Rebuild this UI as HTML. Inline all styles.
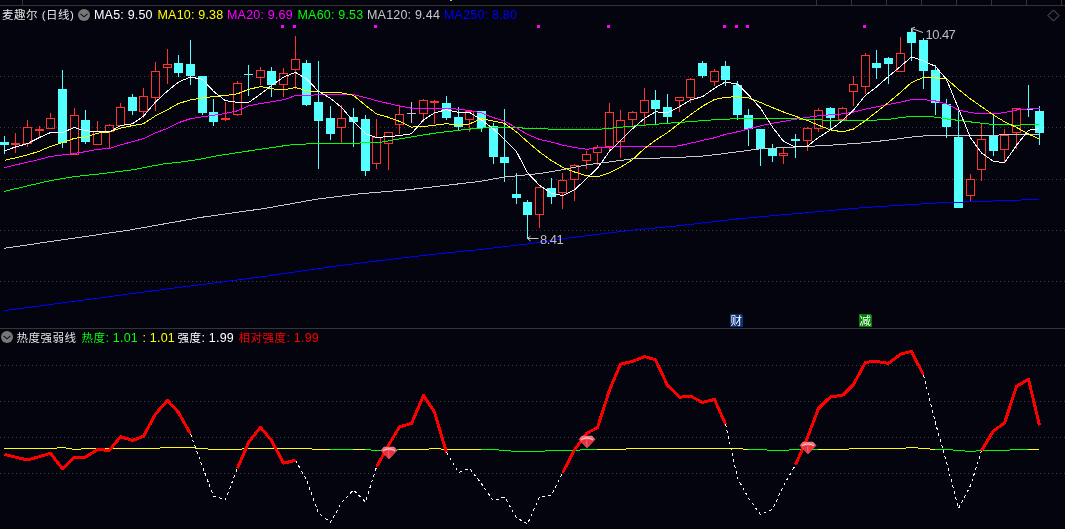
<!DOCTYPE html>
<html><head><meta charset="utf-8"><title>麦趣尔(日线)</title>
<style>
html,body{margin:0;padding:0;background:#04040e;}
body{width:1065px;height:529px;overflow:hidden;position:relative;font-family:"Liberation Sans","Noto Sans CJK SC",sans-serif;font-size:12px;}
svg{position:absolute;left:0;top:0;display:block}
.t{position:absolute;white-space:nowrap;line-height:14px;height:14px;font-size:12.5px;letter-spacing:0.2px}
.h1{top:8px}
.h2{top:330.5px}
.cj{font-size:11.5px;letter-spacing:0.5px}
</style></head><body>
<svg width="1065" height="529" viewBox="0 0 1065 529" shape-rendering="crispEdges">
<rect width="1065" height="529" fill="#04040e"/>

<g fill="#353535">
<rect x="0" y="5" width="1065" height="1"/>
<rect x="22" y="0" width="1" height="5"/>
<rect x="816" y="0" width="1" height="5"/>
<rect x="851" y="0" width="1" height="5"/>
<rect x="886" y="0" width="1" height="5"/>
<rect x="921" y="0" width="1" height="5"/>
<rect x="956" y="0" width="1" height="5"/>
<rect x="991" y="0" width="1" height="5"/>
<rect x="1026" y="0" width="1" height="5"/>
<rect x="1061" y="0" width="1" height="5"/>
<rect x="0" y="328" width="1065" height="1"/>
</g>
<rect x="450" y="0" width="2" height="1" fill="#bbb"/>
<g fill="#4a4a4a">
<line x1="0" y1="76.5" x2="1065" y2="76.5" stroke="#404040" stroke-width="1" stroke-dasharray="1 3"/>
<line x1="0" y1="127.5" x2="1065" y2="127.5" stroke="#404040" stroke-width="1" stroke-dasharray="1 3"/>
<line x1="0" y1="179.5" x2="1065" y2="179.5" stroke="#404040" stroke-width="1" stroke-dasharray="1 3"/>
<line x1="0" y1="230.5" x2="1065" y2="230.5" stroke="#404040" stroke-width="1" stroke-dasharray="1 3"/>
<line x1="0" y1="281.5" x2="1065" y2="281.5" stroke="#404040" stroke-width="1" stroke-dasharray="1 3"/>
<line x1="0" y1="365.5" x2="1065" y2="365.5" stroke="#404040" stroke-width="1" stroke-dasharray="1 3"/>
<line x1="0" y1="401.5" x2="1065" y2="401.5" stroke="#404040" stroke-width="1" stroke-dasharray="1 3"/>
<line x1="0" y1="437.5" x2="1065" y2="437.5" stroke="#404040" stroke-width="1" stroke-dasharray="1 3"/>
<line x1="0" y1="473.5" x2="1065" y2="473.5" stroke="#404040" stroke-width="1" stroke-dasharray="1 3"/>
</g>
<rect x="4" y="136" width="1" height="18" fill="#54ffff"/>
<rect x="0" y="142" width="9" height="3" fill="#54ffff"/>
<rect x="15" y="133" width="1" height="10" fill="#ff3232"/>
<rect x="15" y="145" width="1" height="8" fill="#ff3232"/>
<rect x="11" y="143" width="9" height="2" fill="#ff3232"/>
<rect x="27" y="120" width="1" height="7" fill="#ff3232"/>
<rect x="27" y="144" width="1" height="3" fill="#ff3232"/>
<rect x="23.5" y="127.5" width="8" height="16" fill="none" stroke="#ff3232" stroke-width="1"/>
<rect x="39" y="126" width="1" height="3" fill="#ff3232"/>
<rect x="39" y="131" width="1" height="6" fill="#ff3232"/>
<rect x="35" y="129" width="9" height="2" fill="#ff3232"/>
<rect x="50" y="113" width="1" height="5" fill="#ff3232"/>
<rect x="46.5" y="118.5" width="8" height="10" fill="none" stroke="#ff3232" stroke-width="1"/>
<rect x="62" y="70" width="1" height="78" fill="#54ffff"/>
<rect x="58" y="89" width="9" height="54" fill="#54ffff"/>
<rect x="74" y="108" width="1" height="7" fill="#ff3232"/>
<rect x="70.5" y="115.5" width="8" height="39" fill="none" stroke="#ff3232" stroke-width="1"/>
<rect x="85" y="110" width="1" height="34" fill="#54ffff"/>
<rect x="81" y="120" width="9" height="22" fill="#54ffff"/>
<rect x="97" y="121" width="1" height="10" fill="#ff3232"/>
<rect x="93.5" y="131.5" width="8" height="13" fill="none" stroke="#ff3232" stroke-width="1"/>
<rect x="109" y="124" width="1" height="1" fill="#ff3232"/>
<rect x="109" y="132" width="1" height="16" fill="#ff3232"/>
<rect x="105.5" y="125.5" width="8" height="6" fill="none" stroke="#ff3232" stroke-width="1"/>
<rect x="120" y="103" width="1" height="4" fill="#ff3232"/>
<rect x="116.5" y="107.5" width="8" height="18" fill="none" stroke="#ff3232" stroke-width="1"/>
<rect x="132" y="94" width="1" height="21" fill="#54ffff"/>
<rect x="128" y="97" width="9" height="14" fill="#54ffff"/>
<rect x="143" y="88" width="1" height="8" fill="#ff3232"/>
<rect x="143" y="112" width="1" height="6" fill="#ff3232"/>
<rect x="139.5" y="96.5" width="8" height="15" fill="none" stroke="#ff3232" stroke-width="1"/>
<rect x="155" y="62" width="1" height="9" fill="#ff3232"/>
<rect x="155" y="98" width="1" height="13" fill="#ff3232"/>
<rect x="151.5" y="71.5" width="8" height="26" fill="none" stroke="#ff3232" stroke-width="1"/>
<rect x="167" y="49" width="1" height="15" fill="#ff3232"/>
<rect x="167" y="68" width="1" height="16" fill="#ff3232"/>
<rect x="163.5" y="64.5" width="8" height="3" fill="none" stroke="#ff3232" stroke-width="1"/>
<rect x="178" y="55" width="1" height="22" fill="#54ffff"/>
<rect x="174" y="63" width="9" height="10" fill="#54ffff"/>
<rect x="190" y="40" width="1" height="45" fill="#54ffff"/>
<rect x="186" y="64" width="9" height="12" fill="#54ffff"/>
<rect x="202" y="76" width="1" height="39" fill="#54ffff"/>
<rect x="198" y="76" width="9" height="37" fill="#54ffff"/>
<rect x="213" y="99" width="1" height="27" fill="#54ffff"/>
<rect x="209" y="112" width="9" height="10" fill="#54ffff"/>
<rect x="225" y="102" width="1" height="16" fill="#ff3232"/>
<rect x="225" y="120" width="1" height="1" fill="#ff3232"/>
<rect x="221" y="118" width="9" height="2" fill="#ff3232"/>
<rect x="237" y="81" width="1" height="2" fill="#ff3232"/>
<rect x="237" y="115" width="1" height="1" fill="#ff3232"/>
<rect x="233.5" y="83.5" width="8" height="31" fill="none" stroke="#ff3232" stroke-width="1"/>
<rect x="248" y="65" width="1" height="31" fill="#54ffff"/>
<rect x="244" y="74" width="9" height="1" fill="#54ffff"/>
<rect x="260" y="67" width="1" height="3" fill="#ff3232"/>
<rect x="260" y="78" width="1" height="7" fill="#ff3232"/>
<rect x="256.5" y="70.5" width="8" height="7" fill="none" stroke="#ff3232" stroke-width="1"/>
<rect x="271" y="67" width="1" height="30" fill="#54ffff"/>
<rect x="267" y="71" width="9" height="14" fill="#54ffff"/>
<rect x="283" y="68" width="1" height="5" fill="#ff3232"/>
<rect x="283" y="85" width="1" height="12" fill="#ff3232"/>
<rect x="279.5" y="73.5" width="8" height="11" fill="none" stroke="#ff3232" stroke-width="1"/>
<rect x="295" y="36" width="1" height="23" fill="#ff3232"/>
<rect x="295" y="70" width="1" height="19" fill="#ff3232"/>
<rect x="291.5" y="59.5" width="8" height="10" fill="none" stroke="#ff3232" stroke-width="1"/>
<rect x="306" y="60" width="1" height="46" fill="#54ffff"/>
<rect x="302" y="63" width="9" height="42" fill="#54ffff"/>
<rect x="318" y="61" width="1" height="108" fill="#54ffff"/>
<rect x="314" y="102" width="9" height="19" fill="#54ffff"/>
<rect x="330" y="106" width="1" height="34" fill="#54ffff"/>
<rect x="326" y="118" width="9" height="16" fill="#54ffff"/>
<rect x="341" y="105" width="1" height="13" fill="#ff3232"/>
<rect x="341" y="128" width="1" height="15" fill="#ff3232"/>
<rect x="337.5" y="118.5" width="8" height="9" fill="none" stroke="#ff3232" stroke-width="1"/>
<rect x="353" y="108" width="1" height="39" fill="#54ffff"/>
<rect x="349" y="117" width="9" height="5" fill="#54ffff"/>
<rect x="365" y="115" width="1" height="61" fill="#54ffff"/>
<rect x="361" y="119" width="9" height="52" fill="#54ffff"/>
<rect x="376" y="119" width="1" height="18" fill="#ff3232"/>
<rect x="376" y="164" width="1" height="5" fill="#ff3232"/>
<rect x="372.5" y="137.5" width="8" height="26" fill="none" stroke="#ff3232" stroke-width="1"/>
<rect x="388" y="144" width="1" height="26" fill="#ff3232"/>
<rect x="384.5" y="132.5" width="8" height="11" fill="none" stroke="#ff3232" stroke-width="1"/>
<rect x="399" y="106" width="1" height="8" fill="#ff3232"/>
<rect x="399" y="125" width="1" height="9" fill="#ff3232"/>
<rect x="395.5" y="114.5" width="8" height="10" fill="none" stroke="#ff3232" stroke-width="1"/>
<rect x="411" y="102" width="1" height="21" fill="#c8c8c8"/>
<rect x="407" y="113" width="9" height="1" fill="#c8c8c8"/>
<rect x="423" y="99" width="1" height="1" fill="#ff3232"/>
<rect x="423" y="114" width="1" height="8" fill="#ff3232"/>
<rect x="419.5" y="100.5" width="8" height="13" fill="none" stroke="#ff3232" stroke-width="1"/>
<rect x="434" y="100" width="1" height="1" fill="#ff3232"/>
<rect x="434" y="103" width="1" height="21" fill="#ff3232"/>
<rect x="430" y="101" width="9" height="2" fill="#ff3232"/>
<rect x="446" y="96" width="1" height="24" fill="#54ffff"/>
<rect x="442" y="103" width="9" height="15" fill="#54ffff"/>
<rect x="458" y="107" width="1" height="23" fill="#54ffff"/>
<rect x="454" y="117" width="9" height="10" fill="#54ffff"/>
<rect x="469" y="120" width="1" height="12" fill="#ff3232"/>
<rect x="465.5" y="111.5" width="8" height="8" fill="none" stroke="#ff3232" stroke-width="1"/>
<rect x="481" y="111" width="1" height="21" fill="#54ffff"/>
<rect x="477" y="111" width="9" height="17" fill="#54ffff"/>
<rect x="493" y="123" width="1" height="41" fill="#54ffff"/>
<rect x="489" y="126" width="9" height="31" fill="#54ffff"/>
<rect x="504" y="109" width="1" height="73" fill="#54ffff"/>
<rect x="500" y="157" width="9" height="6" fill="#54ffff"/>
<rect x="516" y="173" width="1" height="31" fill="#54ffff"/>
<rect x="512" y="194" width="9" height="4" fill="#54ffff"/>
<rect x="527" y="200" width="1" height="39" fill="#54ffff"/>
<rect x="523" y="202" width="9" height="13" fill="#54ffff"/>
<rect x="539" y="215" width="1" height="13" fill="#ff3232"/>
<rect x="535.5" y="187.5" width="8" height="27" fill="none" stroke="#ff3232" stroke-width="1"/>
<rect x="551" y="178" width="1" height="26" fill="#54ffff"/>
<rect x="547" y="188" width="9" height="9" fill="#54ffff"/>
<rect x="562" y="173" width="1" height="7" fill="#ff3232"/>
<rect x="562" y="193" width="1" height="16" fill="#ff3232"/>
<rect x="558.5" y="180.5" width="8" height="12" fill="none" stroke="#ff3232" stroke-width="1"/>
<rect x="574" y="164" width="1" height="1" fill="#ff3232"/>
<rect x="574" y="180" width="1" height="21" fill="#ff3232"/>
<rect x="570.5" y="165.5" width="8" height="14" fill="none" stroke="#ff3232" stroke-width="1"/>
<rect x="586" y="151" width="1" height="3" fill="#ff3232"/>
<rect x="586" y="161" width="1" height="8" fill="#ff3232"/>
<rect x="582.5" y="154.5" width="8" height="6" fill="none" stroke="#ff3232" stroke-width="1"/>
<rect x="597" y="145" width="1" height="2" fill="#ff3232"/>
<rect x="597" y="153" width="1" height="12" fill="#ff3232"/>
<rect x="593.5" y="147.5" width="8" height="5" fill="none" stroke="#ff3232" stroke-width="1"/>
<rect x="609" y="103" width="1" height="9" fill="#ff3232"/>
<rect x="609" y="148" width="1" height="3" fill="#ff3232"/>
<rect x="605.5" y="112.5" width="8" height="35" fill="none" stroke="#ff3232" stroke-width="1"/>
<rect x="620" y="110" width="1" height="10" fill="#ff3232"/>
<rect x="620" y="142" width="1" height="16" fill="#ff3232"/>
<rect x="616.5" y="120.5" width="8" height="21" fill="none" stroke="#ff3232" stroke-width="1"/>
<rect x="632" y="111" width="1" height="1" fill="#ff3232"/>
<rect x="632" y="120" width="1" height="7" fill="#ff3232"/>
<rect x="628.5" y="112.5" width="8" height="7" fill="none" stroke="#ff3232" stroke-width="1"/>
<rect x="644" y="88" width="1" height="12" fill="#ff3232"/>
<rect x="644" y="113" width="1" height="12" fill="#ff3232"/>
<rect x="640.5" y="100.5" width="8" height="12" fill="none" stroke="#ff3232" stroke-width="1"/>
<rect x="655" y="90" width="1" height="34" fill="#54ffff"/>
<rect x="651" y="100" width="9" height="9" fill="#54ffff"/>
<rect x="667" y="94" width="1" height="29" fill="#54ffff"/>
<rect x="663" y="107" width="9" height="10" fill="#54ffff"/>
<rect x="679" y="101" width="1" height="11" fill="#ff3232"/>
<rect x="675.5" y="97.5" width="8" height="3" fill="none" stroke="#ff3232" stroke-width="1"/>
<rect x="690" y="78" width="1" height="1" fill="#ff3232"/>
<rect x="690" y="98" width="1" height="5" fill="#ff3232"/>
<rect x="686.5" y="79.5" width="8" height="18" fill="none" stroke="#ff3232" stroke-width="1"/>
<rect x="702" y="61" width="1" height="17" fill="#54ffff"/>
<rect x="698" y="63" width="9" height="13" fill="#54ffff"/>
<rect x="714" y="69" width="1" height="2" fill="#ff3232"/>
<rect x="714" y="82" width="1" height="4" fill="#ff3232"/>
<rect x="710.5" y="71.5" width="8" height="10" fill="none" stroke="#ff3232" stroke-width="1"/>
<rect x="725" y="61" width="1" height="25" fill="#54ffff"/>
<rect x="721" y="66" width="9" height="14" fill="#54ffff"/>
<rect x="737" y="81" width="1" height="39" fill="#54ffff"/>
<rect x="733" y="85" width="9" height="30" fill="#54ffff"/>
<rect x="748" y="109" width="1" height="37" fill="#54ffff"/>
<rect x="744" y="115" width="9" height="14" fill="#54ffff"/>
<rect x="760" y="129" width="1" height="37" fill="#54ffff"/>
<rect x="756" y="129" width="9" height="20" fill="#54ffff"/>
<rect x="772" y="144" width="1" height="18" fill="#54ffff"/>
<rect x="768" y="148" width="9" height="8" fill="#54ffff"/>
<rect x="783" y="148" width="1" height="5" fill="#ff3232"/>
<rect x="783" y="156" width="1" height="8" fill="#ff3232"/>
<rect x="779.5" y="153.5" width="8" height="2" fill="none" stroke="#ff3232" stroke-width="1"/>
<rect x="795" y="134" width="1" height="24" fill="#54ffff"/>
<rect x="791" y="139" width="9" height="2" fill="#54ffff"/>
<rect x="807" y="127" width="1" height="1" fill="#ff3232"/>
<rect x="807" y="141" width="1" height="10" fill="#ff3232"/>
<rect x="803.5" y="128.5" width="8" height="12" fill="none" stroke="#ff3232" stroke-width="1"/>
<rect x="818" y="108" width="1" height="2" fill="#ff3232"/>
<rect x="818" y="129" width="1" height="3" fill="#ff3232"/>
<rect x="814.5" y="110.5" width="8" height="18" fill="none" stroke="#ff3232" stroke-width="1"/>
<rect x="830" y="107" width="1" height="23" fill="#54ffff"/>
<rect x="826" y="108" width="9" height="10" fill="#54ffff"/>
<rect x="842" y="107" width="1" height="1" fill="#ff3232"/>
<rect x="838.5" y="108.5" width="8" height="11" fill="none" stroke="#ff3232" stroke-width="1"/>
<rect x="853" y="76" width="1" height="8" fill="#ff3232"/>
<rect x="853" y="92" width="1" height="14" fill="#ff3232"/>
<rect x="849.5" y="84.5" width="8" height="7" fill="none" stroke="#ff3232" stroke-width="1"/>
<rect x="865" y="53" width="1" height="2" fill="#ff3232"/>
<rect x="865" y="87" width="1" height="7" fill="#ff3232"/>
<rect x="861.5" y="55.5" width="8" height="31" fill="none" stroke="#ff3232" stroke-width="1"/>
<rect x="876" y="50" width="1" height="29" fill="#54ffff"/>
<rect x="872" y="63" width="9" height="5" fill="#54ffff"/>
<rect x="888" y="57" width="1" height="27" fill="#54ffff"/>
<rect x="884" y="58" width="9" height="6" fill="#54ffff"/>
<rect x="900" y="37" width="1" height="16" fill="#ff3232"/>
<rect x="896.5" y="53.5" width="8" height="18" fill="none" stroke="#ff3232" stroke-width="1"/>
<rect x="911" y="28" width="1" height="33" fill="#54ffff"/>
<rect x="907" y="32" width="9" height="11" fill="#54ffff"/>
<rect x="923" y="38" width="1" height="51" fill="#54ffff"/>
<rect x="919" y="40" width="9" height="31" fill="#54ffff"/>
<rect x="935" y="65" width="1" height="50" fill="#54ffff"/>
<rect x="931" y="70" width="9" height="33" fill="#54ffff"/>
<rect x="946" y="99" width="1" height="39" fill="#54ffff"/>
<rect x="942" y="104" width="9" height="23" fill="#54ffff"/>
<rect x="958" y="108" width="1" height="100" fill="#54ffff"/>
<rect x="954" y="137" width="9" height="71" fill="#54ffff"/>
<rect x="970" y="174" width="1" height="5" fill="#ff3232"/>
<rect x="970" y="196" width="1" height="5" fill="#ff3232"/>
<rect x="966.5" y="179.5" width="8" height="16" fill="none" stroke="#ff3232" stroke-width="1"/>
<rect x="981" y="123" width="1" height="16" fill="#ff3232"/>
<rect x="981" y="170" width="1" height="11" fill="#ff3232"/>
<rect x="977.5" y="139.5" width="8" height="30" fill="none" stroke="#ff3232" stroke-width="1"/>
<rect x="993" y="114" width="1" height="42" fill="#54ffff"/>
<rect x="989" y="135" width="9" height="16" fill="#54ffff"/>
<rect x="1004" y="129" width="1" height="6" fill="#ff3232"/>
<rect x="1004" y="150" width="1" height="12" fill="#ff3232"/>
<rect x="1000.5" y="135.5" width="8" height="14" fill="none" stroke="#ff3232" stroke-width="1"/>
<rect x="1016" y="133" width="1" height="16" fill="#ff3232"/>
<rect x="1012.5" y="108.5" width="8" height="24" fill="none" stroke="#ff3232" stroke-width="1"/>
<rect x="1028" y="85" width="1" height="32" fill="#54ffff"/>
<rect x="1024" y="109" width="9" height="1" fill="#54ffff"/>
<rect x="1039" y="106" width="1" height="39" fill="#54ffff"/>
<rect x="1035" y="111" width="9" height="22" fill="#54ffff"/>
<polyline points="4.0,310.7 180.0,287.2 200.0,284.8 265.0,276.4 333.0,266.5 406.8,257.4 450.0,252.5 480.0,249.6 527.5,243.9 574.5,237.3 629.0,230.5 680.0,225.6 740.0,218.6 865.0,207.5 940.6,202.8 1039.0,199.4" fill="none" stroke="#0000ff" stroke-width="1" />
<polyline points="4.0,248.3 128.0,230.3 180.0,221.1 200.0,217.5 265.0,208.4 316.0,199.3 361.5,193.6 406.8,189.9 480.0,181.4 504.6,177.0 540.0,173.5 560.0,170.2 586.0,165.0 632.0,158.9 679.0,157.4 702.0,156.1 720.0,154.1 760.6,148.8 795.0,147.0 830.6,145.2 865.0,142.7 888.0,140.2 912.0,137.0 929.0,135.5 960.0,135.5 1039.0,134.5" fill="none" stroke="#c8c8c8" stroke-width="1" />
<polyline points="4.0,191.4 50.0,180.7 75.0,176.5 100.0,173.9 133.0,169.7 163.0,164.0 180.0,162.2 200.0,159.2 218.9,155.5 237.8,152.6 256.7,149.8 275.6,147.0 288.8,145.1 302.0,144.1 321.0,143.7 336.0,143.2 351.0,143.2 370.0,142.8 380.0,142.4 398.9,139.0 417.8,135.8 436.7,132.9 455.6,130.7 468.8,129.1 478.0,128.6 487.0,127.6 522.0,127.6 523.0,128.5 545.0,128.6 551.0,129.5 600.0,129.2 608.0,128.5 620.5,127.2 632.0,126.2 644.0,125.2 655.0,124.3 667.0,123.3 680.0,122.4 690.5,121.6 714.0,119.8 722.0,119.3 730.0,119.0 795.0,118.8 837.0,120.7 870.0,120.4 888.0,119.4 912.0,116.2 929.0,116.2 946.7,118.9 970.5,121.9 993.5,124.5 1016.6,125.1 1039.0,124.5" fill="none" stroke="#00ff00" stroke-width="1" />
<polyline points="4.5,167.6 15.5,164.9 27.5,162.2 39.5,159.4 50.5,156.4 62.5,154.9 74.5,153.4 85.5,151.7 97.5,149.4 109.5,148.4 120.5,144.9 132.5,141.7 143.5,138.6 155.5,132.9 167.5,128.4 178.5,122.7 190.5,118.7 202.5,116.7 213.5,115.3 225.5,113.4 237.5,110.8 248.5,105.8 260.5,103.6 271.5,101.7 283.5,99.8 295.5,95.6 306.5,95.6 318.5,94.7 330.5,94.7 341.5,94.7 353.5,94.7 365.5,97.5 376.5,100.6 388.5,103.5 399.5,105.9 411.5,108.2 423.5,108.8 434.5,108.8 446.5,108.2 458.5,109.2 469.5,110.5 481.5,112.9 493.5,117.7 504.5,121.1 516.5,127.9 527.5,134.4 539.5,139.4 551.5,142.1 562.5,145.1 574.5,147.4 586.5,149.3 597.5,148.0 609.5,146.5 620.5,146.1 632.5,146.1 644.5,146.1 655.5,146.1 667.5,147.0 679.5,145.7 690.5,143.2 702.5,140.4 714.5,137.8 725.5,134.4 737.5,131.8 748.5,129.0 760.5,125.8 772.5,123.3 783.5,121.4 795.5,119.2 807.5,117.3 818.5,115.8 830.5,114.8 842.5,113.9 853.5,112.0 865.5,109.2 876.5,106.9 888.5,104.4 900.5,102.2 911.5,99.6 923.5,99.6 935.5,101.0 946.5,103.8 958.5,110.0 970.5,112.6 981.5,113.8 993.5,113.8 1004.5,112.6 1016.5,110.0 1028.5,108.9 1039.5,108.9" fill="none" stroke="#ff00ff" stroke-width="1" />
<polyline points="4.5,160.4 15.5,157.8 27.5,154.9 39.5,151.1 50.5,146.4 62.5,142.6 74.5,138.3 85.5,137.0 97.5,133.2 109.5,131.9 120.5,128.1 132.5,125.6 143.5,123.7 155.5,115.9 167.5,109.7 178.5,103.5 190.5,99.9 202.5,97.9 213.5,96.6 225.5,95.5 237.5,93.8 248.5,89.4 260.5,86.6 271.5,88.8 283.5,90.0 295.5,87.5 306.5,90.7 318.5,91.9 330.5,92.6 341.5,92.8 353.5,95.4 365.5,105.4 376.5,113.9 388.5,117.3 399.5,121.4 411.5,127.1 423.5,126.5 434.5,125.2 446.5,123.7 458.5,125.2 469.5,123.9 481.5,118.6 493.5,121.1 504.5,123.3 516.5,131.9 527.5,141.8 539.5,152.0 551.5,160.6 562.5,167.3 574.5,172.0 586.5,175.8 597.5,176.7 609.5,172.9 620.5,167.3 632.5,159.7 644.5,148.4 655.5,140.2 667.5,132.6 679.5,123.2 690.5,114.7 702.5,106.2 714.5,99.5 725.5,97.2 737.5,96.8 748.5,97.8 760.5,102.5 772.5,107.6 783.5,112.0 795.5,116.3 807.5,120.5 818.5,125.2 830.5,129.9 842.5,131.8 853.5,129.0 865.5,120.5 876.5,112.0 888.5,102.4 900.5,92.4 911.5,82.5 923.5,77.4 935.5,77.8 946.5,78.9 958.5,89.4 970.5,99.0 981.5,106.6 993.5,115.1 1004.5,121.7 1016.5,127.4 1028.5,134.0 1039.5,139.3" fill="none" stroke="#ffff00" stroke-width="1" />
<polyline points="4.5,150.8 15.5,147.0 27.5,143.6 39.5,137.5 50.5,132.6 62.5,132.6 74.5,127.5 85.5,130.9 97.5,131.3 109.5,131.9 120.5,125.6 132.5,123.7 143.5,116.2 155.5,102.0 167.5,91.0 178.5,82.1 190.5,77.0 202.5,79.4 213.5,91.3 225.5,100.7 237.5,102.3 248.5,102.6 260.5,94.1 271.5,85.6 283.5,77.1 295.5,72.4 306.5,79.0 318.5,91.3 330.5,98.4 341.5,107.3 353.5,121.3 365.5,133.8 376.5,137.5 388.5,136.6 399.5,135.6 411.5,133.7 423.5,119.9 434.5,112.9 446.5,109.7 458.5,112.4 469.5,112.4 481.5,119.9 493.5,129.0 504.5,139.4 516.5,151.7 527.5,172.7 539.5,185.4 551.5,193.3 562.5,195.6 574.5,189.9 586.5,178.6 597.5,168.2 609.5,151.2 620.5,140.4 632.5,128.8 644.5,118.4 655.5,111.8 667.5,112.8 679.5,106.7 690.5,99.9 702.5,96.7 714.5,88.2 725.5,81.9 737.5,84.2 748.5,95.0 760.5,108.2 772.5,127.1 783.5,141.3 795.5,147.0 807.5,146.0 818.5,137.5 830.5,129.9 842.5,120.5 853.5,110.1 865.5,95.2 876.5,86.9 888.5,76.4 900.5,66.4 911.5,57.0 923.5,60.8 935.5,66.4 946.5,79.4 958.5,108.5 970.5,137.8 981.5,152.9 993.5,161.4 1004.5,162.7 1016.5,145.3 1028.5,130.2 1039.5,128.7" fill="none" stroke="#ffffff" stroke-width="1" />
<rect x="281" y="25" width="3" height="3" fill="#ff00ff"/>
<rect x="293" y="25" width="3" height="3" fill="#ff00ff"/>
<rect x="374" y="25" width="3" height="3" fill="#ff00ff"/>
<rect x="537" y="25" width="3" height="3" fill="#ff00ff"/>
<rect x="607" y="25" width="3" height="3" fill="#ff00ff"/>
<rect x="723" y="25" width="3" height="3" fill="#ff00ff"/>
<rect x="735" y="25" width="3" height="3" fill="#ff00ff"/>
<rect x="746" y="25" width="3" height="3" fill="#ff00ff"/>
<rect x="863" y="25" width="3" height="3" fill="#ff00ff"/>
<g stroke="#c8c8c8" stroke-width="1" fill="none" shape-rendering="auto">
<path d="M911.5 28.5 L923 32.5 M915 27.2 L911.5 28.5 L913.2 32.3"/>
<path d="M527.5 238.5 L538.5 238.5 M530.5 236 L527.5 238.5 L530.5 241"/>
</g>
<path d="M730 314h11l2 2v11h-13z" fill="#0c3278"/>
<path d="M859 314h11l2 2v11h-13z" fill="#008000"/>
<rect x="4" y="448" width="53" height="1" fill="#ffff00"/>
<rect x="57" y="447" width="9" height="1" fill="#ffff00"/>
<rect x="66" y="448" width="6" height="1" fill="#ffff00"/>
<rect x="72" y="449" width="9" height="1" fill="#ffff00"/>
<rect x="81" y="448" width="79" height="1" fill="#ffff00"/>
<rect x="160" y="447" width="35" height="1" fill="#ffff00"/>
<rect x="195" y="448" width="13" height="1" fill="#ffff00"/>
<rect x="208" y="449" width="34" height="1" fill="#ffff00"/>
<rect x="242" y="448" width="70" height="1" fill="#ffff00"/>
<rect x="312" y="449" width="18" height="1" fill="#ffff00"/>
<rect x="330" y="449" width="23" height="1" fill="#00ff00"/>
<rect x="353" y="449" width="12" height="1" fill="#ffff00"/>
<rect x="365" y="449" width="6" height="1" fill="#00ff00"/>
<rect x="371" y="450" width="10" height="1" fill="#00ff00"/>
<rect x="381" y="450" width="16" height="1" fill="#00ff00"/>
<rect x="397" y="449" width="2" height="1" fill="#00ff00"/>
<rect x="399" y="449" width="30" height="1" fill="#ffff00"/>
<rect x="429" y="448" width="12" height="1" fill="#ffff00"/>
<rect x="441" y="449" width="40" height="1" fill="#ffff00"/>
<rect x="481" y="449" width="18" height="1" fill="#00ff00"/>
<rect x="499" y="450" width="12" height="1" fill="#00ff00"/>
<rect x="511" y="451" width="34" height="1" fill="#00ff00"/>
<rect x="545" y="450" width="35" height="1" fill="#00ff00"/>
<rect x="580" y="449" width="17" height="1" fill="#00ff00"/>
<rect x="597" y="449" width="29" height="1" fill="#ffff00"/>
<rect x="626" y="448" width="117" height="1" fill="#ffff00"/>
<rect x="743" y="449" width="5" height="1" fill="#ffff00"/>
<rect x="748" y="449" width="19" height="1" fill="#00ff00"/>
<rect x="767" y="450" width="22" height="1" fill="#00ff00"/>
<rect x="789" y="449" width="29" height="1" fill="#00ff00"/>
<rect x="818" y="449" width="31" height="1" fill="#ffff00"/>
<rect x="849" y="448" width="57" height="1" fill="#ffff00"/>
<rect x="906" y="447" width="12" height="1" fill="#ffff00"/>
<rect x="918" y="448" width="12" height="1" fill="#ffff00"/>
<rect x="930" y="449" width="5" height="1" fill="#ffff00"/>
<rect x="935" y="449" width="18" height="1" fill="#00ff00"/>
<rect x="953" y="450" width="12" height="1" fill="#00ff00"/>
<rect x="965" y="451" width="11" height="1" fill="#00ff00"/>
<rect x="976" y="450" width="34" height="1" fill="#00ff00"/>
<rect x="1010" y="449" width="18" height="1" fill="#00ff00"/>
<rect x="1028" y="449" width="11" height="1" fill="#ffff00"/>
<polyline points="190.5,433.9 202.5,466.8 213.5,496.1 225.5,499.5 237.5,468.3" fill="none" stroke="#ffffff" stroke-width="1" stroke-dasharray="3 3"/>
<polyline points="295.5,460.3 306.5,480.0 318.5,513.1 330.5,522.2 341.5,502.7 353.5,489.9 365.5,501.8 376.5,466.9" fill="none" stroke="#ffffff" stroke-width="1" stroke-dasharray="3 3"/>
<polyline points="446.5,452.5 458.5,472.5 469.5,468.3 481.5,483.8 493.5,500.8 504.5,497.0 516.5,517.8 527.5,524.0 539.5,497.0 551.5,495.3 562.5,472.9" fill="none" stroke="#ffffff" stroke-width="1" stroke-dasharray="3 3"/>
<polyline points="725.5,424.1 737.5,478.1 748.5,498.0 760.5,514.6 772.5,509.3 783.5,485.7 795.5,464.9" fill="none" stroke="#ffffff" stroke-width="1" stroke-dasharray="3 3"/>
<polyline points="923.5,375.0 935.5,423.2 946.5,462.1 958.5,508.4 970.5,485.7 981.5,450.7" fill="none" stroke="#ffffff" stroke-width="1" stroke-dasharray="3 3"/>
<polyline points="4.5,454.3 15.5,457.1 27.5,460.0 39.5,456.6 50.5,453.3 62.5,468.8 74.5,457.1 85.5,457.1 97.5,449.6 109.5,450.3 120.5,436.7 132.5,440.5 143.5,436.3 155.5,414.0 167.5,400.4 178.5,412.5 190.5,433.9" fill="none" stroke="#ff0000" stroke-width="3" stroke-linejoin="round"/>
<polyline points="237.5,468.3 248.5,442.4 260.5,427.3 271.5,440.5 283.5,463.2 295.5,460.3" fill="none" stroke="#ff0000" stroke-width="3" stroke-linejoin="round"/>
<polyline points="376.5,466.9 388.5,445.2 399.5,426.9 411.5,423.5 423.5,395.5 434.5,412.1 446.5,452.5" fill="none" stroke="#ff0000" stroke-width="3" stroke-linejoin="round"/>
<polyline points="562.5,472.9 574.5,450.0 586.5,433.5 597.5,427.5 609.5,390.1 620.5,364.2 632.5,361.4 644.5,356.6 655.5,359.8 667.5,385.4 679.5,397.3 690.5,396.1 702.5,402.4 714.5,399.5 725.5,424.1" fill="none" stroke="#ff0000" stroke-width="3" stroke-linejoin="round"/>
<polyline points="795.5,464.9 807.5,437.5 818.5,408.4 830.5,396.7 842.5,395.4 853.5,384.4 865.5,362.3 876.5,361.4 888.5,363.4 900.5,354.2 911.5,351.3 923.5,375.0" fill="none" stroke="#ff0000" stroke-width="3" stroke-linejoin="round"/>
<polyline points="981.5,450.7 993.5,430.8 1004.5,423.2 1016.5,386.3 1028.5,379.3 1039.5,425.4" fill="none" stroke="#ff0000" stroke-width="3" stroke-linejoin="round"/>
<g transform="translate(381,447)" shape-rendering="auto"><path d="M3 0H13L16 3.5L8 12L0 3.5Z" fill="#ea2f3f"/><path d="M3 0H13L16 3.5H0Z" fill="#f2707a"/><path d="M2 4Q8 -0.3 14 4" stroke="#ffd4d8" fill="none" stroke-width="1"/><path d="M7.6 4.5L8 10.5" stroke="#f4727c" stroke-width="0.9"/><path d="M3 0H13L16 3.5L8 12L0 3.5Z" fill="none" stroke="#f58088" stroke-width="0.5"/></g>
<g transform="translate(579,436)" shape-rendering="auto"><path d="M3 0H13L16 3.5L8 12L0 3.5Z" fill="#ea2f3f"/><path d="M3 0H13L16 3.5H0Z" fill="#f2707a"/><path d="M2 4Q8 -0.3 14 4" stroke="#ffd4d8" fill="none" stroke-width="1"/><path d="M7.6 4.5L8 10.5" stroke="#f4727c" stroke-width="0.9"/><path d="M3 0H13L16 3.5L8 12L0 3.5Z" fill="none" stroke="#f58088" stroke-width="0.5"/></g>
<g transform="translate(800,442)" shape-rendering="auto"><path d="M3 0H13L16 3.5L8 12L0 3.5Z" fill="#ea2f3f"/><path d="M3 0H13L16 3.5H0Z" fill="#f2707a"/><path d="M2 4Q8 -0.3 14 4" stroke="#ffd4d8" fill="none" stroke-width="1"/><path d="M7.6 4.5L8 10.5" stroke="#f4727c" stroke-width="0.9"/><path d="M3 0H13L16 3.5L8 12L0 3.5Z" fill="none" stroke="#f58088" stroke-width="0.5"/></g>
<g shape-rendering="auto"><circle cx="84" cy="15" r="6" fill="#787878"/><path d="M80.5 13.8 L84 16.8 L87.5 13.8" fill="none" stroke="#0c0c14" stroke-width="1.1"/></g>
<g shape-rendering="auto"><circle cx="7" cy="337" r="6" fill="#787878"/><path d="M3.5 335.8 L7 338.8 L10.5 335.8" fill="none" stroke="#0c0c14" stroke-width="1.1"/></g>
<path d="M1053.5 10 L1059 15.5 L1053.5 21 L1048 15.5 Z" fill="none" stroke="#6c6c6c" stroke-width="0.9" shape-rendering="auto"/>
</svg>
<div class="t h1 cj" style="left:2px;color:#e4e4e4;top:8.4px">麦趣尔 (日线)</div>
<div class="t h1" style="left:94px;color:#ffffff;">MA5: 9.50</div>
<div class="t h1" style="left:157.5px;color:#ffff00;">MA10: 9.38</div>
<div class="t h1" style="left:227px;color:#ff00ff;">MA20: 9.69</div>
<div class="t h1" style="left:297.5px;color:#00ff00;">MA60: 9.53</div>
<div class="t h1" style="left:367px;color:#c8c8c8;">MA120: 9.44</div>
<div class="t h1" style="left:444px;color:#0000ff;">MA250: 8.80</div>
<div class="t h2 cj" style="left:16.5px;color:#e4e4e4;">热度强弱线</div>
<div class="t h2" style="left:81.5px;color:#00ff00;"><span class="cj">热度</span>: 1.01</div>
<div class="t h2" style="left:142.5px;color:#ffff00;">: 1.01</div>
<div class="t h2" style="left:177.5px;color:#ffffff;"><span class="cj">强度</span>: 1.99</div>
<div class="t h2" style="left:238.5px;color:#ff0000;"><span class="cj">相对强度</span>: 1.99</div>
<div class="t" style="left:925.5px;top:28px;color:#bcbcbc;font-size:13px;letter-spacing:-0.55px">10.47</div>
<div class="t" style="left:540px;top:233px;color:#bcbcbc;font-size:13px;letter-spacing:-0.55px">8.41</div>
<div class="t" style="left:730.5px;top:314.5px;color:#fff;font-size:11.5px;line-height:13px">财</div>
<div class="t" style="left:859.5px;top:314.5px;color:#fff;font-size:11.5px;line-height:13px">减</div>
</body></html>
